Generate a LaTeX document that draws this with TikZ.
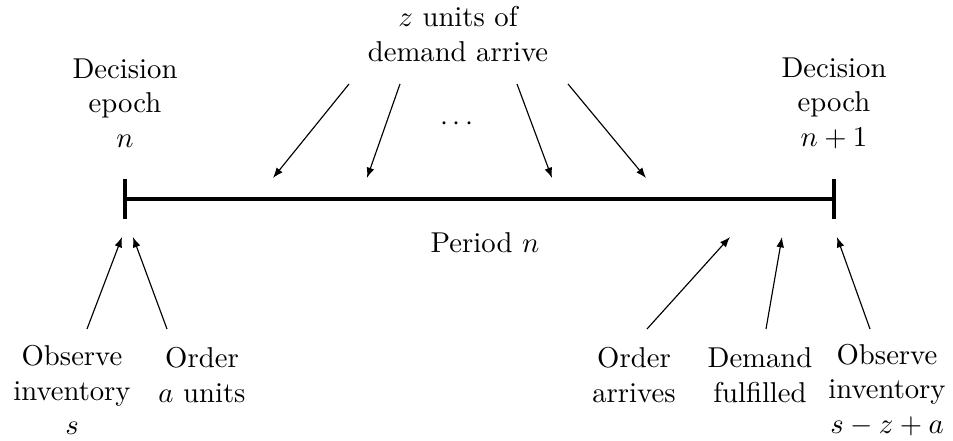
\documentclass[tikz,border=0pt]{standalone}
\usetikzlibrary{arrows.meta}
\begin{document}
\begin{tikzpicture}[x=0.3485pt,y=-0.3485pt,
  lbl/.style={align=center,inner sep=0pt},
  arr/.style={-{Latex[length=3.6pt,width=2.7pt]},line width=0.4pt},
  tl/.style={line width=1.4pt}]
\useasboundingbox (0,0) rectangle (953,441);
% timeline
\coordinate (L) at (125,199);
\coordinate (R) at (834,199);
\coordinate (Lt) at (125,179);
\coordinate (Lb) at (125,219);
\coordinate (Rt) at (834,179);
\coordinate (Rb) at (834,219);
\draw[tl] (L) -- (R);
\draw[tl] (Lt) -- (Lb);
\draw[tl] (Rt) -- (Rb);
% labels
\node[lbl] (dn) at (125,103) {Decision\\epoch\\$n$};
\node[lbl] (dn1) at (834,103) {Decision\\epoch\\$n+1$};
\node[lbl] (z) at (458,34) {$z$ units of\\demand arrive};
\node[lbl] (dots) at (457,124) {$\cdots$};
\node[lbl] (per) at (485,243) {Period $n$};
\node[lbl] (obs) at (72,390) {Observe\\inventory\\$s$};
\node[lbl] (ord) at (202,375) {Order\\$a$ units};
\node[lbl] (oa) at (634,375) {Order\\arrives};
\node[lbl] (df) at (760,375) {Demand\\fulfilled};
\node[lbl] (obs2) at (887,390) {Observe\\inventory\\$s-z+a$};
% top arrows
\coordinate (a1s) at (349,84); \coordinate (a1e) at (273,178);
\coordinate (a2s) at (400,84); \coordinate (a2e) at (367,178);
\coordinate (a3s) at (517,84); \coordinate (a3e) at (552,178);
\coordinate (a4s) at (568,84); \coordinate (a4e) at (646,178);
\draw[arr] (a1s) -- (a1e);
\draw[arr] (a2s) -- (a2e);
\draw[arr] (a3s) -- (a3e);
\draw[arr] (a4s) -- (a4e);
% bottom arrows
\coordinate (b1s) at (87,329); \coordinate (b1e) at (122,237);
\coordinate (b2s) at (167,329); \coordinate (b2e) at (133,237);
\coordinate (b3s) at (647,329); \coordinate (b3e) at (730,237);
\coordinate (b4s) at (766,329); \coordinate (b4e) at (782,237);
\coordinate (b5s) at (870,329); \coordinate (b5e) at (837,237);
\draw[arr] (b1s) -- (b1e);
\draw[arr] (b2s) -- (b2e);
\draw[arr] (b3s) -- (b3e);
\draw[arr] (b4s) -- (b4e);
\draw[arr] (b5s) -- (b5e);
\end{tikzpicture}
\end{document}
